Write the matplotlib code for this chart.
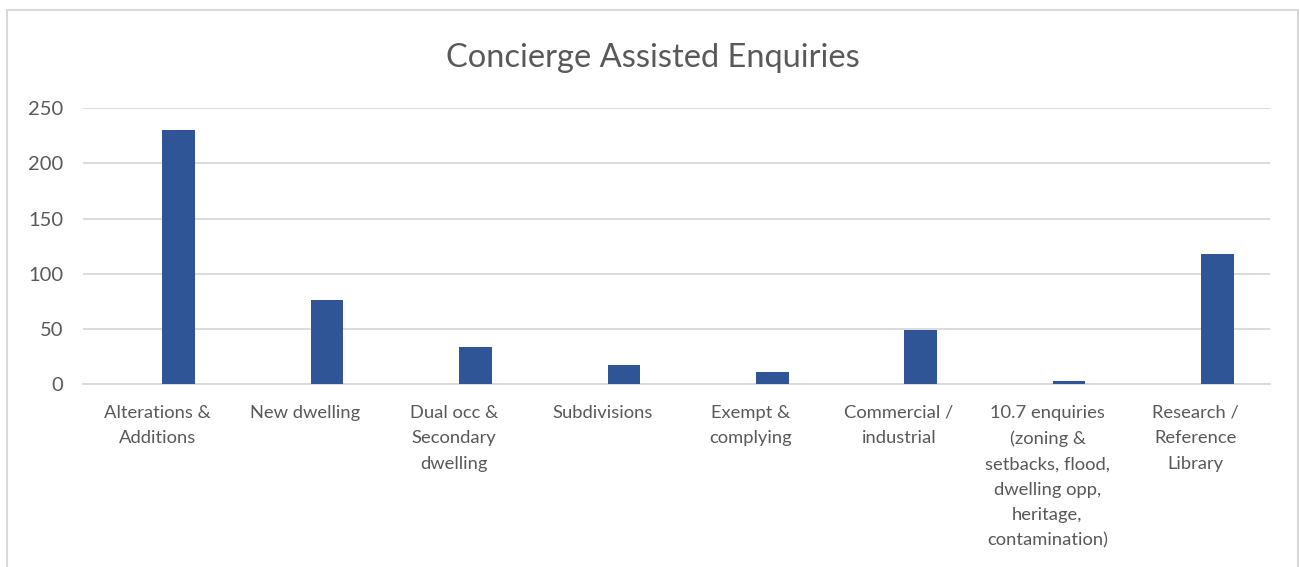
import matplotlib
matplotlib.use("Agg")
import matplotlib.pyplot as plt
from matplotlib.patches import Rectangle
import numpy as np

plt.rcParams['font.family'] = ['Lato', 'DejaVu Sans']

categories = [
    "Alterations &\nAdditions",
    "New dwelling",
    "Dual occ &\nSecondary\ndwelling",
    "Subdivisions",
    "Exempt &\ncomplying",
    "Commercial /\nindustrial",
    "10.7 enquiries\n(zoning &\nsetbacks, flood,\ndwelling opp,\nheritage,\ncontamination)",
    "Research /\nReference\nLibrary",
]
enquiries = [230, 76, 34, 17, 11, 49, 3, 118]
y_ticks = [0, 50, 100, 150, 200, 250]

bar_color = "#2F5597"
grid_color = "#D9D9D9"
text_color = "#595959"

fig = plt.figure(figsize=(13, 5.67), dpi=100)
ax = fig.add_axes([83 / 1300, 1 - 384 / 567, (1270 - 83) / 1300, (384 - 108.3) / 567])

x = np.arange(len(categories))
# bars sit a little right of the category centre (second slot of a clustered layout)
ax.bar(x + 0.145, enquiries, width=0.22, color=bar_color, zorder=3)

ax.set_xlim(-0.5, len(categories) - 0.5)
ax.set_ylim(0, 250)
ax.set_yticks(y_ticks)
ax.yaxis.grid(True, color=grid_color, linewidth=1.3, zorder=0)
ax.set_xticks(x)
ax.set_xticklabels(categories, fontsize=13.2, color=text_color, linespacing=1.72,
                   va="top", ha="center")
ax.tick_params(axis="x", length=0, pad=15)
ax.tick_params(axis="y", length=0, pad=14, labelsize=14.5, labelcolor=text_color)
for side in ["top", "right", "left"]:
    ax.spines[side].set_visible(False)
ax.spines["bottom"].set_color(grid_color)
ax.spines["bottom"].set_linewidth(1.3)

fig.text(653 / 1300, 1 - 58 / 567, "Concierge Assisted Enquiries", fontsize=23.5,
         color=text_color, ha="center", va="center")

# chart frame
fig.patches.append(Rectangle((6.5 / 1300, -0.05), (1298 - 6.5) / 1300, 1.05 - 9.5 / 567,
                             transform=fig.transFigure, fill=False,
                             edgecolor="#D9D9D9", linewidth=1.5))

fig.savefig("out.png", dpi=100, facecolor="white")
